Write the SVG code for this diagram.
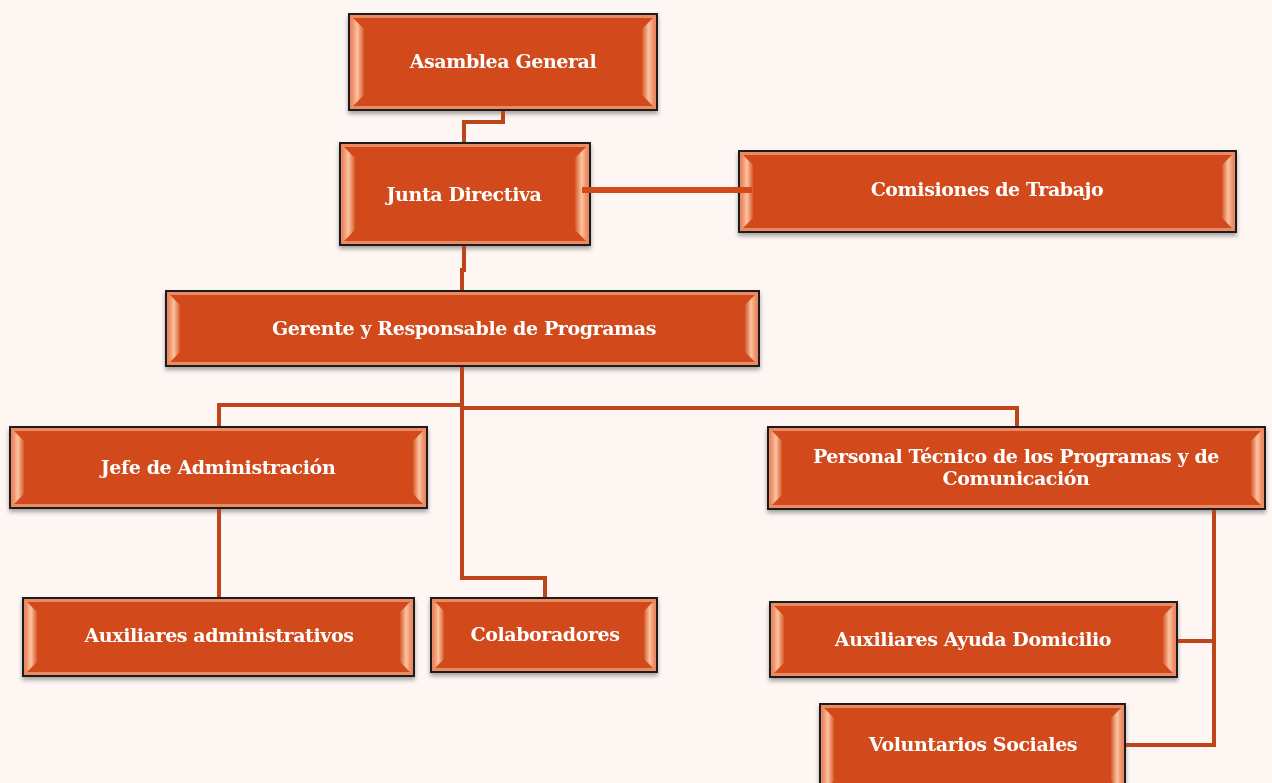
<svg xmlns="http://www.w3.org/2000/svg" width="1272" height="783" viewBox="0 0 1272 783">
<defs>
<style>
.box{fill:#D2491A;stroke:#1E1E1E;stroke-width:2}
.rim{fill:none;stroke:#E98A62;stroke-width:3}
.bev{fill:url(#bevL)}
.bevr{fill:url(#bevR)}
.lbl{font-family:"DejaVu Serif","Liberation Serif",serif;font-weight:bold;font-size:19px;fill:#FFFFFF;text-anchor:middle;letter-spacing:-0.4px}
.con{fill:none;stroke:#BE4519;stroke-width:4;stroke-linejoin:miter}
.con2{fill:none;stroke:#D2491A;stroke-width:6}
</style>
<linearGradient id="bevL" x1="0" y1="0" x2="1" y2="0">
<stop offset="0" stop-color="#F08A60"/>
<stop offset="0.45" stop-color="#FBC3A2"/>
<stop offset="1" stop-color="#D65A2A"/>
</linearGradient>
<linearGradient id="bevR" x1="0" y1="0" x2="1" y2="0">
<stop offset="0" stop-color="#D65A2A"/>
<stop offset="0.55" stop-color="#FBC3A2"/>
<stop offset="1" stop-color="#F08A60"/>
</linearGradient>
<filter id="sh" x="-5%" y="-10%" width="110%" height="130%">
<feDropShadow dx="0" dy="3" stdDeviation="2" flood-color="#000" flood-opacity="0.35"/>
</filter>
</defs>
<rect x="0" y="0" width="1272" height="783" fill="#FDF6F3"/>

<g id="n-asamblea" filter="url(#sh)">
<rect class="box" x="349" y="14" width="308" height="96"/>
<rect class="rim" x="351.5" y="16.5" width="303" height="91"/>
<polygon class="bev" points="352,17 364,29 364,95 352,107"/>
<polygon class="bevr" points="654,17 642,29 642,95 654,107"/>
<text class="lbl" x="503" y="68">Asamblea General</text>
</g>

<g id="n-junta" filter="url(#sh)">
<rect class="box" x="340" y="143" width="250" height="102"/>
<rect class="rim" x="342.5" y="145.5" width="245" height="97"/>
<polygon class="bev" points="343,146 355,158 355,230 343,242"/>
<polygon class="bevr" points="587,146 575,158 575,230 587,242"/>
<text class="lbl" x="464" y="201">Junta Directiva</text>
</g>

<g id="n-comisiones" filter="url(#sh)">
<rect class="box" x="739" y="151" width="497" height="81"/>
<rect class="rim" x="741.5" y="153.5" width="492" height="76"/>
<polygon class="bev" points="742,154 753,165 753,218 742,229"/>
<polygon class="bevr" points="1233,154 1222,165 1222,218 1233,229"/>
<text class="lbl" x="987" y="196">Comisiones de Trabajo</text>
</g>

<g id="n-gerente" filter="url(#sh)">
<rect class="box" x="166" y="291" width="593" height="75"/>
<rect class="rim" x="168.5" y="293.5" width="588" height="70"/>
<polygon class="bev" points="169,294 180,305 180,352 169,363"/>
<polygon class="bevr" points="756,294 745,305 745,352 756,363"/>
<text class="lbl" x="464" y="335">Gerente y Responsable de Programas</text>
</g>

<g id="n-jefe" filter="url(#sh)">
<rect class="box" x="10" y="427" width="417" height="81"/>
<rect class="rim" x="12.5" y="429.5" width="412" height="76"/>
<polygon class="bev" points="13,430 24,441 24,494 13,505"/>
<polygon class="bevr" points="424,430 413,441 413,494 424,505"/>
<text class="lbl" x="218" y="474">Jefe de Administración</text>
</g>

<g id="n-personal" filter="url(#sh)">
<rect class="box" x="768" y="427" width="497" height="82"/>
<rect class="rim" x="770.5" y="429.5" width="492" height="77"/>
<polygon class="bev" points="771,430 782,441 782,495 771,506"/>
<polygon class="bevr" points="1262,430 1251,441 1251,495 1262,506"/>
<text class="lbl" x="1016" y="463">Personal Técnico de los Programas y de</text>
<text class="lbl" x="1016" y="485">Comunicación</text>
</g>

<g id="n-auxadmin" filter="url(#sh)">
<rect class="box" x="23" y="598" width="391" height="78"/>
<rect class="rim" x="25.5" y="600.5" width="386" height="73"/>
<polygon class="bev" points="26,601 37,612 37,662 26,673"/>
<polygon class="bevr" points="411,601 400,612 400,662 411,673"/>
<text class="lbl" x="219" y="642">Auxiliares administrativos</text>
</g>

<g id="n-colab" filter="url(#sh)">
<rect class="box" x="431" y="598" width="226" height="74"/>
<rect class="rim" x="433.5" y="600.5" width="221" height="69"/>
<polygon class="bev" points="434,601 444,611 444,659 434,669"/>
<polygon class="bevr" points="654,601 644,611 644,659 654,669"/>
<text class="lbl" x="545" y="641">Colaboradores</text>
</g>

<g id="n-ayuda" filter="url(#sh)">
<rect class="box" x="770" y="602" width="407" height="75"/>
<rect class="rim" x="772.5" y="604.5" width="402" height="70"/>
<polygon class="bev" points="773,605 784,616 784,663 773,674"/>
<polygon class="bevr" points="1174,605 1163,616 1163,663 1174,674"/>
<text class="lbl" x="973" y="646">Auxiliares Ayuda Domicilio</text>
</g>

<g id="n-voluntarios" filter="url(#sh)">
<rect class="box" x="820" y="704" width="305" height="90"/>
<rect class="rim" x="822.5" y="706.5" width="300" height="85"/>
<polygon class="bev" points="823,707 834,718 834,781 823,792"/>
<polygon class="bevr" points="1122,707 1111,718 1111,781 1122,792"/>
<text class="lbl" x="973" y="751">Voluntarios Sociales</text>
</g>

<g id="connectors">
<polyline class="con" points="503,111 503,122 464,122 464,142"/>
<polyline class="con" points="464,246 464,270 462,270 462,290"/>
<polyline class="con" points="462,367 462,578 545,578 545,597"/>
<polyline class="con" points="219,426 219,405 462,405"/>
<polyline class="con" points="462,408 1017,408 1017,426"/>
<line class="con" x1="219" y1="509" x2="219" y2="597"/>
<polyline class="con" points="1214,510 1214,745 1126,745"/>
<line class="con" x1="1178" y1="641" x2="1214" y2="641"/>
<line class="con2" x1="582" y1="190" x2="752" y2="190"/>
</g>
</svg>
